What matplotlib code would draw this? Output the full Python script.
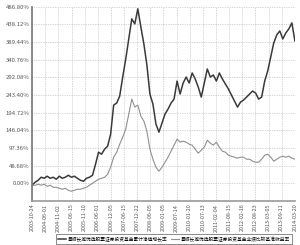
import numpy as np
import matplotlib
matplotlib.use('Agg')
import matplotlib.pyplot as plt

plt.rcParams['font.family'] = ['Noto Sans CJK SC', 'DejaVu Sans']

# tick dates along the bottom (evenly spaced by trading day)
tick_dates = ['2003-10-24', '2004-06-01', '2004-11-02', '2005-06-15', '2005-11-10',
              '2006-06-01', '2006-12-05', '2007-06-15', '2007-12-22', '2008-06-05',
              '2009-01-05', '2009-07-14', '2010-01-20', '2010-07-13', '2011-02-04',
              '2011-08-15', '2012-02-16', '2012-08-23', '2013-03-05', '2013-09-11',
              '2014-03-20']

# cumulative NAV growth of the fund, %
fund = [-5.5, 2.8, 8.3, 16.6, 13.8, 19.4, 13.8, 16.6, 11.1, 19.4,
        13.8, 16.6, 22.1, 16.6, 19.4, 13.8, 8.3, 5.5, 13.8, 16.6,
        22.1, 52.6, 85.7, 80.2, 94.0, 102.3, 135.5, 215.7, 221.3, 240.6,
        293.2, 343.0, 398.3, 453.6, 439.8, 481.3, 431.5, 384.5, 326.4, 246.2,
        218.5, 163.2, 141.1, 166.0, 190.9, 204.7, 221.3, 232.3, 282.1, 246.2,
        276.6, 293.2, 276.6, 304.3, 287.7, 265.5, 237.9, 276.6, 315.3, 293.2,
        298.7, 282.1, 304.3, 287.7, 273.8, 260.0, 243.4, 226.8, 210.2, 224.0,
        229.6, 237.9, 246.2, 254.5, 248.9, 232.3, 237.9, 282.1, 309.8, 348.5,
        387.2, 409.4, 420.4, 398.3, 414.9, 426.0, 442.6, 392.8]

# benchmark return, %
bench = [-5.5, -5.5, -2.8, -5.5, -2.8, -8.3, -5.5, -11.1, -11.1, -13.8,
         -16.6, -13.8, -19.4, -22.1, -19.4, -16.6, -16.6, -13.8, -11.1, -5.5,
         0.0, 5.5, 11.1, 13.8, 16.6, 24.9, 44.3, 71.9, 85.7, 107.9,
         127.2, 149.4, 190.9, 232.3, 210.2, 215.7, 185.3, 171.5, 143.8, 94.0,
         66.4, 44.3, 33.2, 44.3, 58.1, 71.9, 88.5, 105.1, 121.7, 113.4,
         116.2, 113.4, 107.9, 105.1, 94.0, 83.0, 91.3, 99.6, 118.9, 110.6,
         105.1, 113.4, 99.6, 88.5, 85.7, 77.4, 74.7, 71.9, 69.2, 71.9,
         71.9, 66.4, 66.4, 60.9, 58.1, 58.1, 66.4, 77.4, 80.2, 71.9,
         60.9, 66.4, 71.9, 74.7, 71.9, 74.7, 69.2, 66.4]

labels = ['景顺长城优选股票证券投资基金累计净值增长率',
          '景顺长城优选股票证券投资基金业绩比较基准收益率']

step = 48.68
yticks = [step * i for i in range(11)]

fig = plt.figure(figsize=(3.0, 2.45), dpi=100)
ax = fig.add_axes([0.107, 0.18, 0.876, 0.792])

x_f = np.linspace(0, len(tick_dates) - 1, len(fund))
x_b = np.linspace(0, len(tick_dates) - 1, len(bench))
l1, = ax.plot(x_f, fund, color='#3a3a3a', lw=1.1)
l2, = ax.plot(x_b, bench, color='#909090', lw=0.8)

ax.set_xlim(0, len(tick_dates) - 1)
ax.set_ylim(-step, yticks[-1])
ax.set_yticks(yticks)
ax.set_yticklabels([f'{v:.2f}%' for v in yticks])
ax.set_xticks(range(len(tick_dates)))
ax.set_xticklabels(tick_dates, rotation=90)

ax.tick_params(axis='y', labelsize=4.3, colors='#555555', length=0, pad=2)
ax.tick_params(axis='x', labelsize=3.9, colors='#555555', length=0, pad=2)
ax.grid(True, color='#b0b0b0', lw=0.5, ls=(0, (1, 1.5)))
for s in ('top', 'right'):
    ax.spines[s].set_visible(False)
ax.spines['left'].set_color('#777777')
ax.spines['left'].set_linewidth(1.2)
ax.spines['bottom'].set_color('#999999')
ax.spines['bottom'].set_linewidth(1.2)

leg = fig.legend([l1, l2], labels, loc='lower center', bbox_to_anchor=(0.58, 0.0),
                 ncol=2, fontsize=3.4, frameon=True, fancybox=False,
                 handlelength=1.6, columnspacing=0.8, borderpad=0.45,
                 handletextpad=0.4, borderaxespad=0.2)
leg.get_frame().set_edgecolor('#555555')
leg.get_frame().set_linewidth(0.6)

fig.savefig('out.png', dpi=100, facecolor='white')
